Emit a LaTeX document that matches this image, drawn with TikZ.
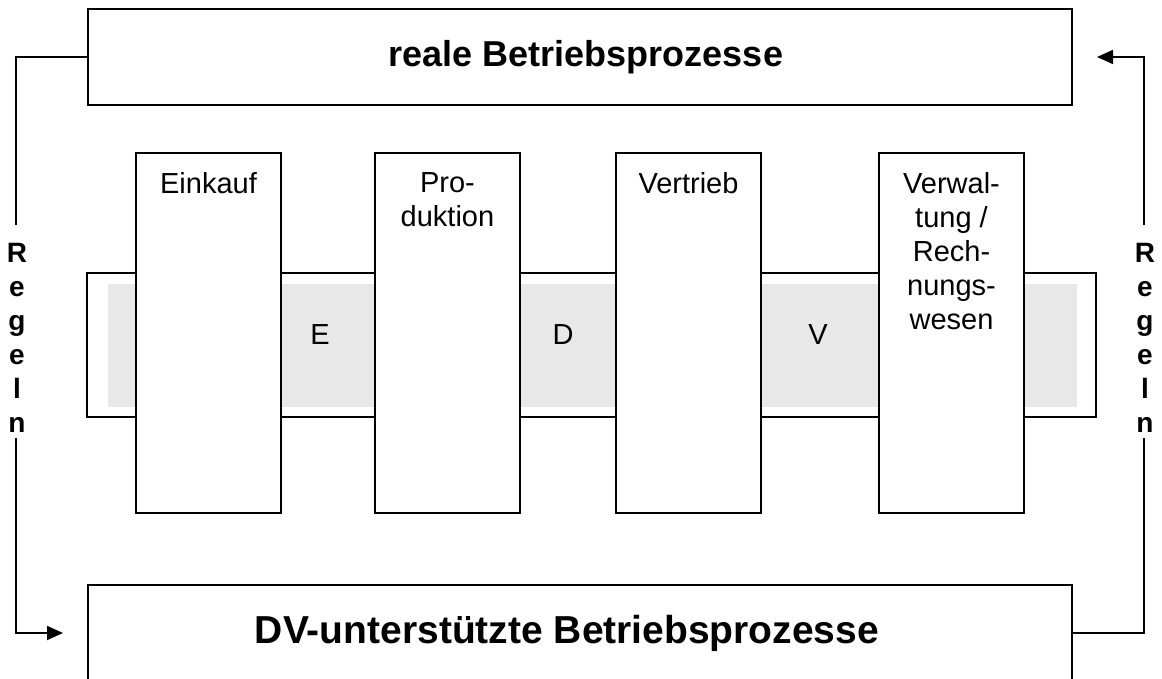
\documentclass[tikz,border=0pt]{standalone}
\usepackage{fontspec}
\setmainfont{Liberation Sans}
\usetikzlibrary{arrows.meta}
\definecolor{bandgray}{RGB}{232,232,232}
\begin{document}
\begin{tikzpicture}[x=1pt,y=-1pt,line width=1.8pt,
  procbox/.style={draw,outer sep=0pt,inner sep=0pt,minimum width=984pt,minimum height=96pt},
  proctext/.style={inner sep=0pt,font=\bfseries\fontsize{36}{43}\selectfont},
  proctextb/.style={inner sep=0pt,font=\bfseries\fontsize{39}{46}\selectfont},
  colbox/.style={draw,fill=white,outer sep=0pt,inner sep=0pt,minimum width=145pt,minimum height=360pt},
  coltext/.style={anchor=north,align=center,inner sep=0pt,font=\fontsize{29}{34}\selectfont},
  bandtext/.style={inner sep=0pt,font=\fontsize{29}{34}\selectfont},
  regeln/.style={align=center,inner sep=5pt,outer sep=0pt,font=\bfseries\fontsize{28}{34}\selectfont},
  arr/.style={-{Triangle[length=16pt,width=14pt]}}]
\useasboundingbox (0,0) rectangle (1162,679);
\clip (0,0) rectangle (1162,679);
% EDV band
\node[draw,outer sep=0pt,inner sep=0pt,minimum width=1009pt,minimum height=144pt] (band) at (591.5,345) {};
\node[fill=bandgray,draw=none,inner sep=0pt,minimum width=969pt,minimum height=123pt] (gray) at (592.5,345.5) {};
\node[bandtext] (lE) at (320,335) {E};
\node[bandtext] (lD) at (563,335) {D};
\node[bandtext] (lV) at (818,335) {V};
% columns
\node[colbox] (c1) at (208.5,333) {};
\node[colbox] (c2) at (447.5,333) {};
\node[colbox] (c3) at (688.5,333) {};
\node[colbox] (c4) at (951.5,333) {};
\node[coltext] (t1) at ([yshift=-19pt]c1.north) {Einkauf};
\node[coltext] (t2) at ([yshift=-19pt]c2.north) {Pro-\\duktion};
\node[coltext] (t3) at ([yshift=-19pt]c3.north) {Vertrieb};
\node[coltext] (t4) at ([yshift=-19pt]c4.north) {Verwal-\\tung /\\Rech-\\nungs-\\wesen};
% process boxes
\node[procbox] (top) at (580,57) {};
\node[proctext] (topT) at (586,57) {reale Betriebsprozesse};
\node[procbox] (bot) at (580,633) {};
\node[proctextb] (botT) at (567,633) {DV-unterstützte Betriebsprozesse};
% Regeln labels
\node[regeln] (regL) at (17,338) {R\\e\\g\\e\\l\\n};
\node[regeln] (regR) at (1145,338) {R\\e\\g\\e\\l\\n};
\coordinate (arrL) at (63,633);
\coordinate (arrR) at (1097,57);
% connectors
\draw (top.west) -| ([xshift=-1pt,yshift=13pt]regL.north);
\draw[arr] ([xshift=-1pt]regL.south) |- (arrL);
\draw (bot.east) -| ([xshift=-1pt]regR.south);
\draw[arr] ([xshift=-1pt,yshift=13pt]regR.north) |- (arrR);
\end{tikzpicture}
\end{document}
